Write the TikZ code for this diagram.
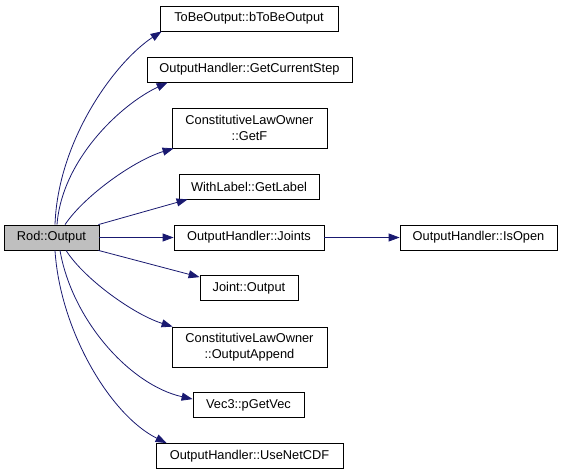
\documentclass[tikz,border=0pt]{standalone}
\usepackage{fontspec}
\setmainfont{Liberation Sans}
\usetikzlibrary{arrows.meta}
\definecolor{edgeblue}{HTML}{191970}
\definecolor{rodgray}{HTML}{BFBFBF}
\begin{document}
\begin{tikzpicture}[x=1pt,y=-1pt,
  box/.style={draw=black, line width=0.8pt, fill=white, inner sep=0pt,
    font=\fontsize{12.8}{16}\selectfont, align=center, minimum height=25pt},
  call/.style={draw=edgeblue, line width=0.8pt, -{Triangle[length=11pt,width=8pt]}}]
\useasboundingbox (0,0) rectangle (563,475);
% nodes
\node[box, fill=rodgray, minimum width=95pt] (rod) at (51.5,237.5) {Rod::Output};
\node[box, minimum width=178pt] (b) at (249,18.5) {ToBeOutput::bToBeOutput};
\node[box, minimum width=205pt] (gcs) at (249.5,69.5) {OutputHandler::GetCurrentStep};
\node[box, minimum width=155pt, minimum height=40pt] (getf) at (249.5,128) {ConstitutiveLawOwner\\::GetF};
\node[box, minimum width=140pt] (gl) at (249,186.5) {WithLabel::GetLabel};
\node[box, minimum width=150pt] (joints) at (249,237.5) {OutputHandler::Joints};
\node[box, minimum width=98pt] (jo) at (249,288) {Joint::Output};
\node[box, minimum width=155pt, minimum height=40pt] (oa) at (249.5,347) {ConstitutiveLawOwner\\::OutputAppend};
\node[box, minimum width=111pt] (pv) at (248.5,405) {Vec3::pGetVec};
\node[box, minimum width=187pt] (ncdf) at (249.5,456) {OutputHandler::UseNetCDF};
\node[box, minimum width=157pt] (isopen) at (478.5,237.5) {OutputHandler::IsOpen};
% edges
\draw[call] ([xshift=3.5pt]rod.north) .. controls (58,140) and (115,62) .. ([xshift=2pt]b.south west);
\draw[call] ([xshift=5.5pt]rod.north) .. controls (62,160) and (120,105) .. ([xshift=21pt]gcs.south west);
\draw[call] ([xshift=13.5pt]rod.north) .. controls (85,195) and (135,160) .. ([xshift=2pt]getf.south west);
\draw[call] ([xshift=-1pt]rod.north east) -- ([xshift=9pt]gl.south west);
\draw[call] (rod.east) -- (joints.west);
\draw[call] ([xshift=-1pt]rod.south east) -- ([yshift=-2pt]jo.north west);
\draw[call] ([xshift=14.5pt]rod.south) .. controls (85,280) and (135,315) .. ([xshift=1pt]oa.north west);
\draw[call] ([xshift=8.5pt]rod.south) .. controls (72,320) and (130,385) .. ([yshift=-7pt]pv.north west);
\draw[call] ([xshift=3.5pt]rod.south) .. controls (60,330) and (110,415) .. ([xshift=11pt]ncdf.north west);
\draw[call] (joints.east) -- (isopen.west);
\end{tikzpicture}
\end{document}
